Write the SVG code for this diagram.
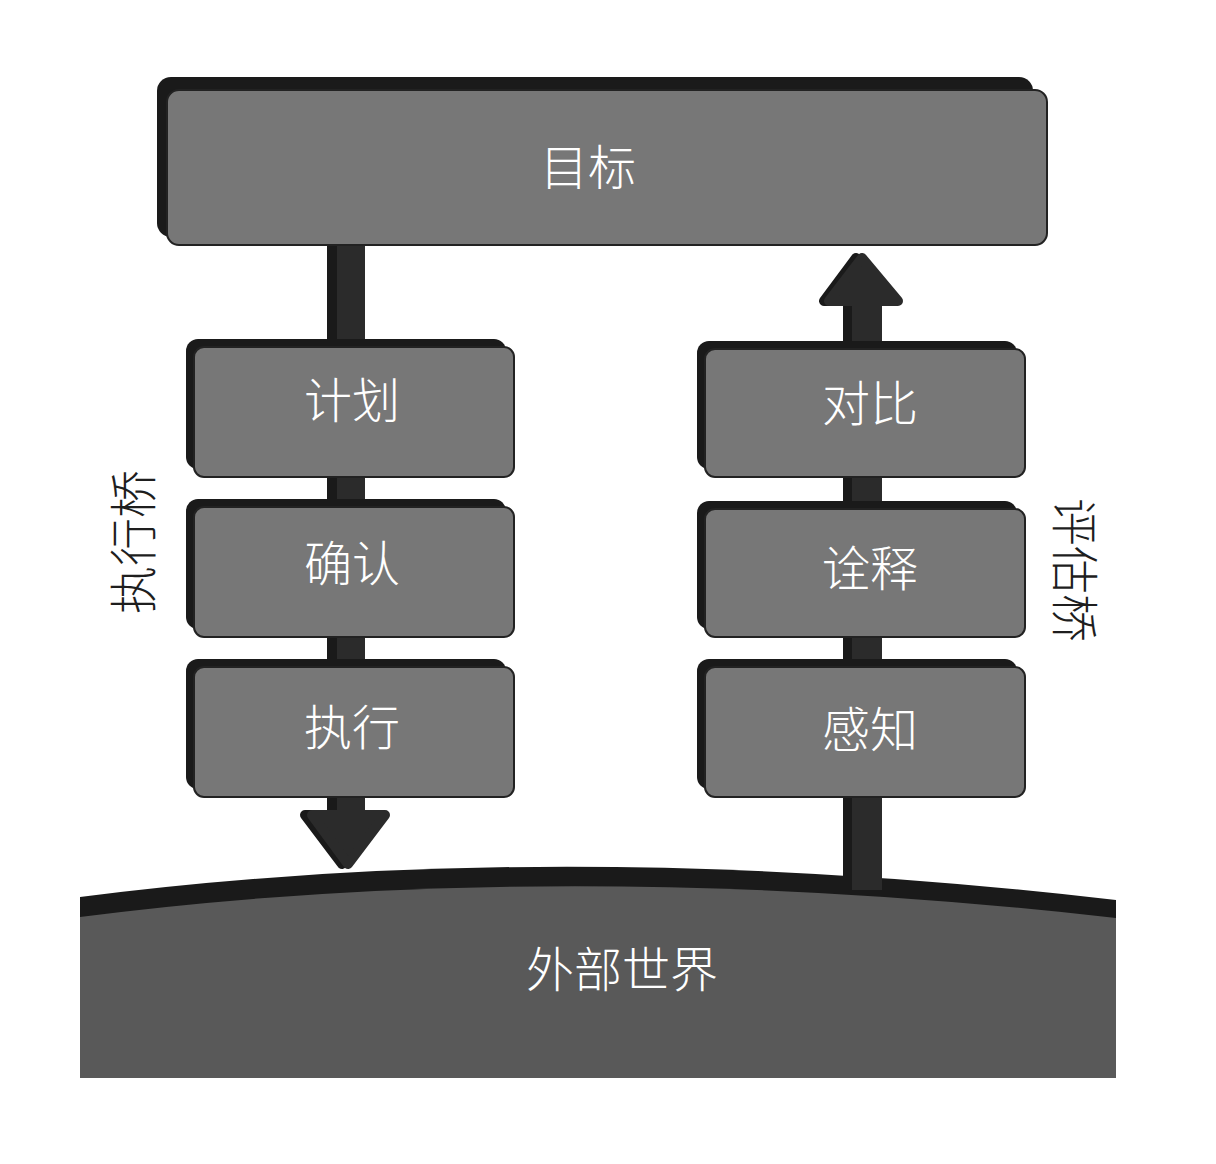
<svg xmlns="http://www.w3.org/2000/svg" width="1216" height="1164" viewBox="0 0 1216 1164">
<style>
.sh{fill:#1a1a1a}
.fr{fill:#777777;stroke:#222;stroke-width:2}
.lb{font-family:"Noto Sans CJK SC","Noto Sans",sans-serif;font-size:48px;font-weight:300;fill:#ffffff;text-anchor:middle;dominant-baseline:central}
.side{font-family:"Noto Sans CJK SC","Noto Sans",sans-serif;font-size:48px;font-weight:300;fill:#1e1e1e;text-anchor:middle;dominant-baseline:central}
.shaft{fill:#2b2b2b}
.head{fill:#2b2b2b;stroke:#2b2b2b;stroke-width:10;stroke-linejoin:round}
.heads{fill:#1a1a1a;stroke:#1a1a1a;stroke-width:10;stroke-linejoin:round}
</style>
<rect width="1216" height="1164" fill="#ffffff"/>
<g id="world">
<path d="M80,897 Q560,835 1116,900 L1116,1078 L80,1078 Z" fill="#1a1a1a"/>
<path d="M80,917 Q560,855 1116,918 L1116,1078 L80,1078 Z" fill="#595959"/>
<text class="lb" x="622" y="966">外部世界</text>
</g>
<g id="connectors">
<rect x="327" y="240" width="38" height="575" class="sh"/>
<rect x="337" y="240" width="28" height="575" class="shaft"/>
<path d="M305,815 L380,815 L342,864 Z" class="heads"/>
<path d="M312,815 L385,815 L348,864 Z" class="head"/>
<rect x="843" y="300" width="39" height="590" class="sh"/>
<rect x="852" y="300" width="30" height="590" class="shaft"/>
<path d="M824,301 L894,301 L856,258 Z" class="heads"/>
<path d="M829,301 L898,301 L862,258 Z" class="head"/>
</g>
<g id="goal">
<rect x="157" y="77" width="876" height="160" rx="14" class="sh"/>
<rect x="167" y="90" width="880" height="155" rx="12" class="fr"/>
<text class="lb" x="588" y="164">目标</text>
</g>
<g id="plan">
<rect x="186" y="339" width="320" height="130" rx="12" class="sh"/>
<rect x="194" y="347" width="320" height="130" rx="10" class="fr"/>
<text class="lb" x="352" y="397">计划</text>
</g>
<g id="confirm">
<rect x="186" y="499" width="320" height="130" rx="12" class="sh"/>
<rect x="194" y="507" width="320" height="130" rx="10" class="fr"/>
<text class="lb" x="352" y="560">确认</text>
</g>
<g id="execute">
<rect x="186" y="659" width="320" height="130" rx="12" class="sh"/>
<rect x="194" y="667" width="320" height="130" rx="10" class="fr"/>
<text class="lb" x="352" y="724">执行</text>
</g>
<g id="compare">
<rect x="697" y="341" width="320" height="128" rx="12" class="sh"/>
<rect x="705" y="349" width="320" height="128" rx="10" class="fr"/>
<text class="lb" x="870" y="400">对比</text>
</g>
<g id="interpret">
<rect x="697" y="501" width="320" height="128" rx="12" class="sh"/>
<rect x="705" y="509" width="320" height="128" rx="10" class="fr"/>
<text class="lb" x="870" y="565">诠释</text>
</g>
<g id="perceive">
<rect x="697" y="659" width="320" height="130" rx="12" class="sh"/>
<rect x="705" y="667" width="320" height="130" rx="10" class="fr"/>
<text class="lb" x="870" y="726">感知</text>
</g>
<g id="bridge-exec">
<text class="side" transform="translate(130,542) rotate(-90)">执行桥</text>
</g>
<g id="bridge-eval">
<text class="side" transform="translate(1078,570) rotate(90)">评估桥</text>
</g>
</svg>
